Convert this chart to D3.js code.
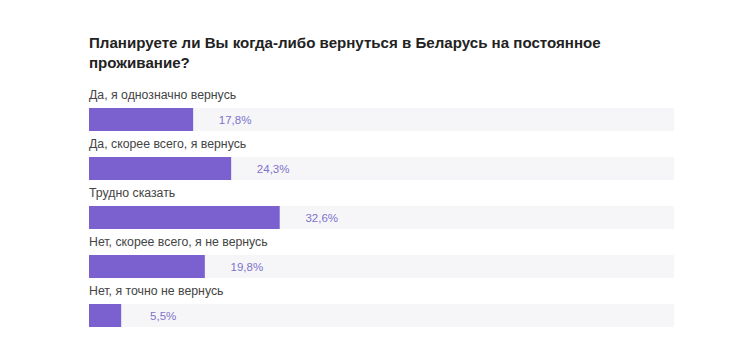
<!DOCTYPE html>
<html><head><meta charset="utf-8">
<script src="https://cdn.jsdelivr.net/npm/d3@7"></script>
<style>body{margin:0;background:#fff;}svg{display:block;}</style>
</head><body>
<svg id="c" width="732" height="358"></svg>
<script>
const titleLines = ["Планируете ли Вы когда-либо вернуться в Беларусь на постоянное", "проживание?"];
const categories = ["Да, я однозначно вернусь", "Да, скорее всего, я вернусь", "Трудно сказать", "Нет, скорее всего, я не вернусь", "Нет, я точно не вернусь"];
const values = [17.8, 24.3, 32.6, 19.8, 5.5];
const valueLabels = ["17,8%", "24,3%", "32,6%", "19,8%", "5,5%"];

const svg = d3.select("#c");
const font = "'Liberation Sans', Arial, sans-serif";
const x = d3.scaleLinear().domain([0, 100]).range([89, 674]);
const y = d3.scaleBand().domain(categories).range([84, 329]).paddingInner(0).paddingOuter(0);

svg.append("g").selectAll("text").data(titleLines).join("text")
  .attr("x", 89).attr("y", (d, i) => 48 + i * 20)
  .attr("font-family", font).attr("font-size", 15.1).attr("font-weight", "bold")
  .attr("fill", "#222").text(d => d);

const rows = svg.append("g").selectAll("g").data(categories).join("g")
  .attr("transform", d => `translate(0,${y(d)})`);

rows.append("text").attr("x", 89).attr("y", 14.5)
  .attr("font-family", font).attr("font-size", 12.3).attr("fill", "#444")
  .text(d => d);

rows.append("rect").attr("x", x(0)).attr("y", 24).attr("width", x(100) - x(0)).attr("height", 23)
  .attr("fill", "#f6f6f8");

rows.append("rect").attr("x", x(0)).attr("y", 24)
  .attr("width", (d, i) => x(values[i]) - x(0)).attr("height", 23)
  .attr("fill", "#7b61cf");

rows.append("text").attr("x", (d, i) => x(values[i]) + 42).attr("y", 40)
  .attr("text-anchor", "middle")
  .attr("font-family", font).attr("font-size", 11.5).attr("fill", "#7e72cc")
  .text((d, i) => valueLabels[i]);
</script>
</body></html>
